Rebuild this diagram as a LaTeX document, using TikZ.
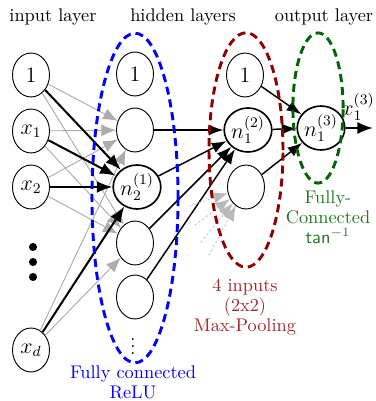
\documentclass[tikz,border=0pt]{standalone}
\usetikzlibrary{arrows.meta,shapes.geometric}
\definecolor{dred}{RGB}{140,0,0}
\definecolor{tred}{RGB}{160,40,40}
\definecolor{dgreen}{RGB}{0,100,0}
\definecolor{tgreen}{RGB}{30,120,30}
\begin{document}
\begin{tikzpicture}[x=0.546pt,y=-0.546pt,
 neuron/.style={draw, ellipse, minimum width=20.2pt, minimum height=24pt, inner sep=0pt, line width=0.5pt, font=\large},
 boldneuron/.style={neuron, line width=0.9pt},
 garrow/.style={-{Latex[length=8pt,width=6.5pt]}, draw=gray!65, fill=gray!65, line width=0.5pt},
 barrow/.style={-{Latex[length=8.5pt,width=6.5pt]}, line width=1.1pt},
 marrow/.style={-{Latex[length=8pt,width=6pt]}, line width=0.8pt},
 darrow/.style={-{Latex[length=8pt,width=6.5pt]}, draw=gray!55, fill=gray!55, dotted, line width=0.6pt},
 layer/.style={line width=1.6pt, dash pattern=on 4.4pt off 2.7pt},
 title/.style={font=\normalsize},
 lbl/.style={font=\fontsize{10}{11}\selectfont, align=center}]
\useasboundingbox (0,0) rectangle (375,401);

% titles
\node[title] (t1) at (53,17) {input layer};
\node[title] (t2) at (183,17) {hidden layers};
\node[title] (t3) at (324,17) {output layer};

% input layer
\node[neuron] (i0) at (31,75) {$1$};
\node[neuron] (i1) at (31,131) {$x_1$};
\node[neuron] (i2) at (31,187) {$x_2$};
\node[neuron] (id) at (31,350) {$x_d$};
\fill (33,247) circle (2.2pt) (33,262) circle (2.2pt) (33,277) circle (2.2pt);

% hidden layer 1
\node[neuron] (a0) at (135,74) {$1$};
\node[neuron] (a1) at (135,130) {};
\node[boldneuron] (a2) at (137,187) {$n_2^{(1)}$};
\node[neuron] (a3) at (135,243) {};
\node[neuron] (a4) at (135,297) {};
\node[inner sep=0pt] (av) at (133,341) {$\vdots$};

% hidden layer 2
\node[neuron] (b0) at (245,75) {$1$};
\node[boldneuron] (b1) at (248,130) {$n_1^{(2)}$};
\node[neuron] (b2) at (246,187) {};

% output
\node[boldneuron] (c1) at (321,128) {$n_1^{(3)}$};
\coordinate (oe) at (373,128);
\node[font=\large] (ol) at (358,107) {$x_1^{(3)}$};

% gray input edges
\foreach \s in {i0,i1,i2,id} {
  \draw[garrow] (\s) -- (a1);
  \draw[garrow] (\s) -- (a3);
}
% black input edges
\foreach \s in {i0,i1,i2,id} {
  \draw[barrow] (\s) -- (a2);
}

% hidden1 -> hidden2
\foreach \s in {a1,a2,a3,a4} {
  \draw[marrow] (\s) -- (b1);
}
% dotted inputs to b2
\coordinate (p1) at (190,206);
\coordinate (p2) at (195,225);
\coordinate (p3) at (201,242);
\coordinate (p4) at (209,255);
\foreach \s in {p1,p2,p3,p4} {
  \draw[darrow] (\s) -- (b2);
}

% hidden2 -> output
\foreach \s in {b0,b1,b2} {
  \draw[marrow] (\s) -- (c1);
}
\draw[barrow] (c1) -- (oe);

% layer ellipses
\draw[layer, blue] (135,198) ellipse [x radius=23.5pt, y radius=90pt];
\draw[layer, dred] (246,150) ellipse [x radius=20.2pt, y radius=64pt];
\draw[layer, dgreen] (318,108) ellipse [x radius=13.7pt, y radius=41pt];

% labels
\node[lbl, text=blue] (lb) at (133,382) {Fully connected\\ReLU};
\node[lbl, text=tred] (lr) at (245,307) {4 inputs\\(2x2)\\Max-Pooling};
\node[lbl, text=tgreen] (lg) at (328,217) {Fully-\\Connected\\$\mathsf{tan}^{-1}$};
\end{tikzpicture}
\end{document}
